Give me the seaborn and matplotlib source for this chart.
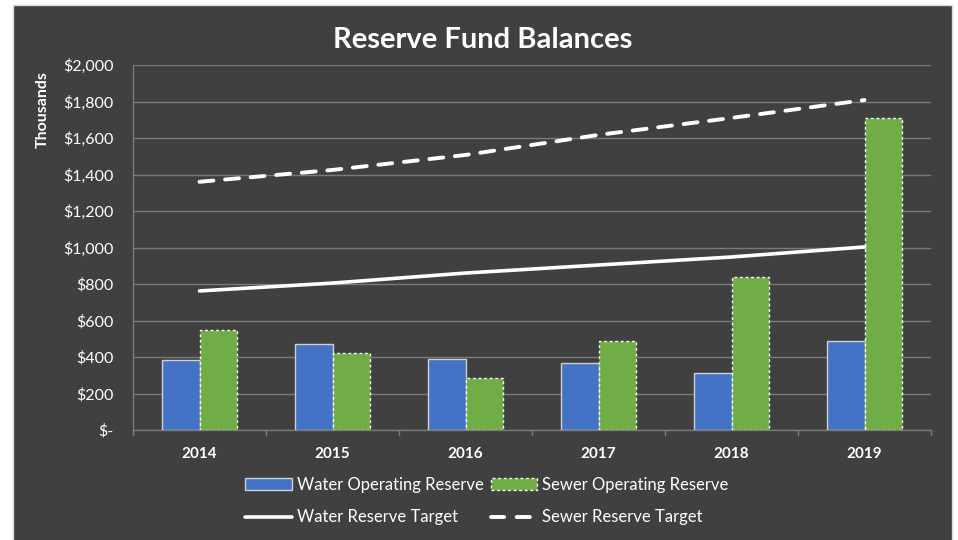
import matplotlib
matplotlib.use("Agg")
import matplotlib.pyplot as plt
import matplotlib.patches as mpatches
from matplotlib.lines import Line2D
import seaborn as sns
import pandas as pd
import numpy as np

years = ["2014", "2015", "2016", "2017", "2018", "2019"]
water_operating = [385, 470, 390, 367, 312, 490]
sewer_operating = [550, 420, 285, 488, 838, 1710]
water_target = [762, 805, 860, 904, 948, 1003]
sewer_target = [1360, 1425, 1507, 1617, 1710, 1808]
yticks = [0, 200, 400, 600, 800, 1000, 1200, 1400, 1600, 1800, 2000]
ytick_labels = ["$-", "$200", "$400", "$600", "$800", "$1,000", "$1,200",
                "$1,400", "$1,600", "$1,800", "$2,000"]

sns.set_theme(style="dark")
plt.rcParams["font.family"] = ["Lato", "DejaVu Sans"]

BG = "#404040"
BLUE = "#4472C4"
GREEN = "#70AD47"
GRID = "#7a7a7a"

fig = plt.figure(figsize=(9.58, 5.40), dpi=100)
fig.patch.set_facecolor("white")
panel = mpatches.Rectangle((13 / 958, -0.01), 939 / 958, 535 / 540 + 0.01,
                           transform=fig.transFigure, facecolor=BG,
                           edgecolor="#d9d9d9", linewidth=1, zorder=-10)
fig.add_artist(panel)

ax = fig.add_axes([133 / 958, 1 - 430 / 540, 798 / 958, 365 / 540])
ax.set_facecolor(BG)
ax.set_zorder(1)

bars = pd.DataFrame({
    "year": years * 2,
    "value": water_operating + sewer_operating,
    "series": ["Water Operating Reserve"] * 6 + ["Sewer Operating Reserve"] * 6,
})
sns.barplot(data=bars, x="year", y="value", hue="series", order=years,
            palette=[BLUE, GREEN], width=0.57, gap=0, ax=ax, legend=False,
            saturation=1, zorder=3)
for p in ax.containers[0]:
    p.set_edgecolor("#d0d0d0")
    p.set_linewidth(1.0)
for p in ax.containers[1]:
    p.set_edgecolor("white")
    p.set_linewidth(1.0)
    p.set_linestyle((0, (2, 2)))

lines = pd.DataFrame({"x": np.arange(len(years)), "wt": water_target, "st": sewer_target})
sns.lineplot(data=lines, x="x", y="wt", color="white", linewidth=2.6, ax=ax, zorder=4)
sns.lineplot(data=lines, x="x", y="st", color="white", linewidth=2.8, ax=ax, zorder=4)
ax.lines[-1].set_dashes((3.6, 3.0))
ax.lines[-1].set_dash_capstyle("round")

ax.set_xlim(-0.5, len(years) - 0.5)
ax.set_ylim(0, 2000)
ax.set_yticks(yticks)
ax.set_yticklabels(ytick_labels)
ax.set_xticks(range(len(years)))
ax.set_xticklabels(years, fontweight="bold")
ax.tick_params(axis="y", colors="white", labelsize=11.5, length=5, width=1, color=GRID, pad=9)
ax.tick_params(axis="x", colors="white", labelsize=11, length=0, pad=12)
for x in np.arange(-0.5, len(years), 1.0):
    ax.plot([x, x], [0, -0.015], transform=ax.get_xaxis_transform(), color=GRID,
            linewidth=1, clip_on=False, zorder=2)

ax.grid(axis="y", color=GRID, linewidth=1, zorder=0)
ax.grid(axis="x", visible=False)
ax.set_axisbelow(True)
for s in ["top", "right"]:
    ax.spines[s].set_visible(False)
ax.spines["left"].set_color(GRID)
ax.spines["bottom"].set_color(GRID)
ax.spines["left"].set_linewidth(1)
ax.spines["bottom"].set_linewidth(1)
ax.spines["left"].set_bounds(-30, 2000)
ax.set_xlabel("")
ax.set_ylabel("")

fig.text(43 / 958, 1 - 110 / 540, "Thousands", rotation=90, color="white",
         fontsize=11.5, fontweight="bold", ha="center", va="center")
fig.text(483 / 958, 1 - 40 / 540, "Reserve Fund Balances", color="white",
         fontsize=21, fontweight="bold", ha="center", va="center")

handles = [
    mpatches.Patch(facecolor=BLUE, edgecolor="#d0d0d0", linewidth=1),
    Line2D([], [], color="white", linewidth=2.6),
    mpatches.Patch(facecolor=GREEN, edgecolor="white", linewidth=1, linestyle=(0, (2, 2))),
    Line2D([], [], color="white", linewidth=2.8, linestyle=(0, (3.4, 3.2)), dash_capstyle="round"),
]
labels = ["Water Operating Reserve", "Water Reserve Target",
          "Sewer Operating Reserve", "Sewer Reserve Target"]
leg = fig.legend(handles, labels, ncol=2, loc="center", bbox_to_anchor=(487 / 958, 1 - 501 / 540),
                 frameon=False, fontsize=12, labelcolor="white", handlelength=2.8,
                 handleheight=0.7, handletextpad=0.3, columnspacing=0.4, labelspacing=1.0)

fig.savefig("out.png", dpi=100, facecolor=fig.get_facecolor())
